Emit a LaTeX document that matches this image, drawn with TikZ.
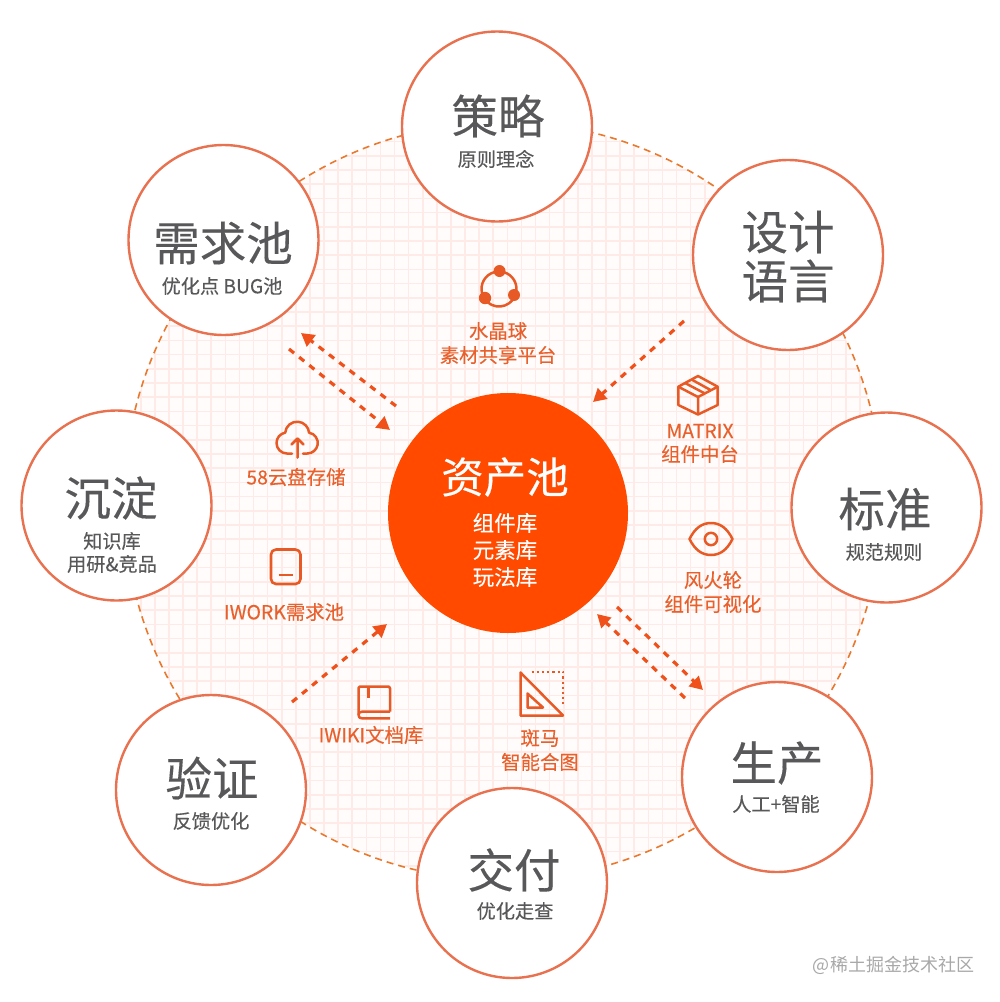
\documentclass[tikz,border=0pt]{standalone}
\usepackage{fontspec}
\setmainfont{Noto Sans CJK SC}
\newfontfamily\heavyish[FakeBold=0.25]{Noto Sans CJK SC}
\usetikzlibrary{arrows.meta}
\definecolor{ringc}{HTML}{E8714F}
\definecolor{dashc}{HTML}{E8792F}
\definecolor{hubc}{HTML}{FF4A00}
\definecolor{gridc}{HTML}{FEEAE6}
\definecolor{fieldc}{HTML}{FFFCFB}
\definecolor{greytxt}{HTML}{58585A}
\definecolor{orangetxt}{HTML}{E8602C}
\definecolor{iconc}{HTML}{E85A25}
\definecolor{arrowc}{HTML}{F0501A}
\definecolor{marktxt}{HTML}{A8A8A8}
\tikzset{
  x=1pt,y=-1pt,
  ringnode/.style={circle,draw=ringc,fill=white,line width=2.4pt,minimum size=190pt,inner sep=0pt},
  hubnode/.style={circle,fill=hubc,minimum size=240pt,inner sep=0pt},
  bigtxt/.style={text=greytxt,font=\heavyish\fontsize{46.5}{48}\selectfont,inner sep=0pt},
  subtxt/.style={text=greytxt,font=\heavyish\fontsize{19.2}{21}\selectfont,inner sep=0pt},
  labtxt/.style={text=orangetxt,font=\heavyish\fontsize{19.4}{21}\selectfont,inner sep=0pt},
  hubbig/.style={text=white,font=\heavyish\fontsize{42.5}{44}\selectfont,inner sep=0pt},
  hubsub/.style={text=white,font=\heavyish\fontsize{21.5}{23}\selectfont,inner sep=0pt},
  iconline/.style={draw=iconc,line width=2.5pt,line join=round},
  flow/.style={draw=arrowc,line width=3.2pt,dash pattern=on 6.5pt off 6.5pt,-{Triangle[length=13pt,width=14pt]}}
}
\begin{document}
\begin{tikzpicture}
\useasboundingbox (0,0) rectangle (1000,1002);
% field
\coordinate (fieldc0) at (503,501);
\fill[fieldc] (fieldc0) circle[radius=379pt];
\begin{scope}
\clip (fieldc0) circle[radius=379pt];
\foreach \k in {-34,...,27}{
  \draw[gridc,line width=1.6pt] ({606+14.1*\k},100) -- ({606+14.1*\k},900);
}
\foreach \k in {-3,...,53}{
  \draw[gridc,line width=1.6pt] (100,{170+14.2*\k}) -- (900,{170+14.2*\k});
}
\end{scope}
\draw[dashc,line width=1.6pt,dash pattern=on 7pt off 5pt] (fieldc0) circle[radius=379pt];
% rings
\node[ringnode] (celue) at (497,126.5) {};
\node[ringnode] (sheji) at (788,255) {};
\node[ringnode] (biaozhun) at (886.5,507.5) {};
\node[ringnode] (shengchan) at (777,777) {};
\node[ringnode] (jiaofu) at (512,883) {};
\node[ringnode] (yanzheng) at (211,790) {};
\node[ringnode] (chendian) at (116.5,505.5) {};
\node[ringnode] (xuqiu) at (223.5,240) {};
\node[hubnode] (hub) at (508,513) {};
% ring texts
\node[bigtxt] (t1) at (498,116) {策略};
\node[subtxt] (t1s) at (496,159) {原则理念};
\node[bigtxt] (t2a) at (788,232) {设计};
\node[bigtxt] (t2b) at (788,281) {语言};
\node[bigtxt] (t3) at (885,509) {标准};
\node[subtxt] (t3s) at (884,552) {规范规则};
\node[bigtxt] (t4) at (777,763) {生产};
\node[subtxt] (t4s) at (776,804) {人工+智能};
\node[bigtxt] (t5) at (514,870) {交付};
\node[subtxt] (t5s) at (515,911) {优化走查};
\node[bigtxt] (t6) at (212,778) {验证};
\node[subtxt] (t6s) at (211,821) {反馈优化};
\node[bigtxt] (t7) at (111,498) {沉淀};
\node[subtxt] (t7a) at (112,541) {知识库};
\node[subtxt] (t7b) at (112,564) {用研\&竞品};
\node[bigtxt] (t8) at (223,243) {需求池};
\node[subtxt] (t8s) at (222,286) {优化点 BUG池};
% hub texts
\node[hubbig] (h0) at (505,477) {资产池};
\node[hubsub] (h1) at (505,523) {组件库};
\node[hubsub] (h2) at (505,550) {元素库};
\node[hubsub] (h3) at (505,577) {玩法库};
% tool labels
\node[labtxt] (l1a) at (498,331) {水晶球};
\node[labtxt] (l1b) at (498,355) {素材共享平台};
\node[labtxt] (l2a) at (700,431) {MATRIX};
\node[labtxt] (l2b) at (700,454) {组件中台};
\node[labtxt] (l3a) at (713,580) {风火轮};
\node[labtxt] (l3b) at (713,604) {组件可视化};
\node[labtxt] (l4a) at (540,738) {斑马};
\node[labtxt] (l4b) at (540,762) {智能合图};
\node[labtxt] (l5) at (371,735) {IWIKI文档库};
\node[labtxt] (l6) at (284,612) {IWORK需求池};
\node[labtxt] (l7) at (296,477) {58云盘存储};
% connector ends
\coordinate (a1s) at (396,406); \coordinate (a1e) at (301,333);
\coordinate (a2s) at (289,349); \coordinate (a2e) at (390,430);
\coordinate (a3s) at (684,321); \coordinate (a3e) at (593,402);
\coordinate (a4s) at (617,607); \coordinate (a4e) at (703,690);
\coordinate (a5s) at (685,698); \coordinate (a5e) at (597,614);
\coordinate (a6s) at (292,702); \coordinate (a6e) at (387,624);
\draw[flow] (a1s) -- (a1e);
\draw[flow] (a2s) -- (a2e);
\draw[flow] (a3s) -- (a3e);
\draw[flow] (a4s) -- (a4e);
\draw[flow] (a5s) -- (a5e);
\draw[flow] (a6s) -- (a6e);
% crystal icon
\coordinate (cr) at (499,289);
\draw[iconline] ([shift={(105:17.5pt)}]cr) arc[start angle=105,end angle=195,radius=17.5pt];
\draw[iconline] ([shift={(230:17.5pt)}]cr) arc[start angle=230,end angle=322,radius=17.5pt];
\draw[iconline] ([shift={(-8:17.5pt)}]cr) arc[start angle=-8,end angle=72,radius=17.5pt];
\fill[iconc] (499.5,271) circle[radius=6pt] (485,298) circle[radius=6.2pt] (514,295) circle[radius=6pt];
% cloud icon
\draw[iconline,line cap=round] (292,453.5) -- (287,453.5) arc[start angle=270,end angle=100,radius=10.5pt]
  arc[start angle=175,end angle=5,radius=12pt]
  arc[start angle=80,end angle=-90,radius=10.5pt] -- (303,453.5);
\draw[iconline,line cap=round] (297.5,457.5) -- (297.5,438.5) (291.5,444.5) -- (297.5,438.5) -- (303.5,444.5);
% box icon
\draw[iconline] (698,376) -- (717.7,386.7) -- (717.7,405) -- (698,414.5) -- (678.3,405) -- (678.3,386.7) -- cycle;
\draw[iconline] (678.3,386.7) -- (698,397) -- (717.7,386.7) (698,397) -- (698,414.5);
\draw[iconline] (685,383) -- (704,393) (691.5,379.5) -- (710.5,390);
% eye icon
\draw[iconline] (689.5,539) .. controls (695,528) and (702,523) .. (711,523) .. controls (720,523) and (727,528) .. (732.5,539)
  .. controls (727,550) and (720,555) .. (711,555) .. controls (702,555) and (695,550) .. (689.5,539) -- cycle;
\draw[iconline] (711,539) circle[radius=6.2pt];
% ruler icon
\draw[iconline,miter limit=4] (520.5,672.5) -- (520.5,715.5) -- (563,715.5) -- cycle;
\draw[iconline] (527.5,693.5) -- (527.5,707.5) -- (543,707.5) -- cycle;
\draw[iconc,line width=2.2pt,dash pattern=on 2.3pt off 2.9pt] (531.5,671.7) -- (563.3,671.7) -- (563.3,704);
% tablet icon
\draw[iconline,line width=2.6pt,rounded corners=5pt] (271,549.5) rectangle (300.5,584);
\draw[iconline,line width=2.6pt] (278.5,575) -- (293,575);
% book icon
\draw[iconline,rounded corners=1.5pt] (390,711.7) -- (390,686.5) -- (358.5,686.5) -- (358.5,715);
\draw[iconline] (358.5,715) .. controls (358.5,712.5) and (360,711.7) .. (362,711.7) -- (390,711.7);
\draw[iconline] (358.5,715) .. controls (358.5,717.5) and (360,718.3) .. (362,718.3) -- (390,718.3);
\draw[iconline] (368.5,686.5) -- (368.5,698);
% watermark
\node[text=marktxt,font=\fontsize{18}{20}\selectfont,inner sep=0pt] (wm) at (893.5,965) {@稀土掘金技术社区};
\end{tikzpicture}
\end{document}
